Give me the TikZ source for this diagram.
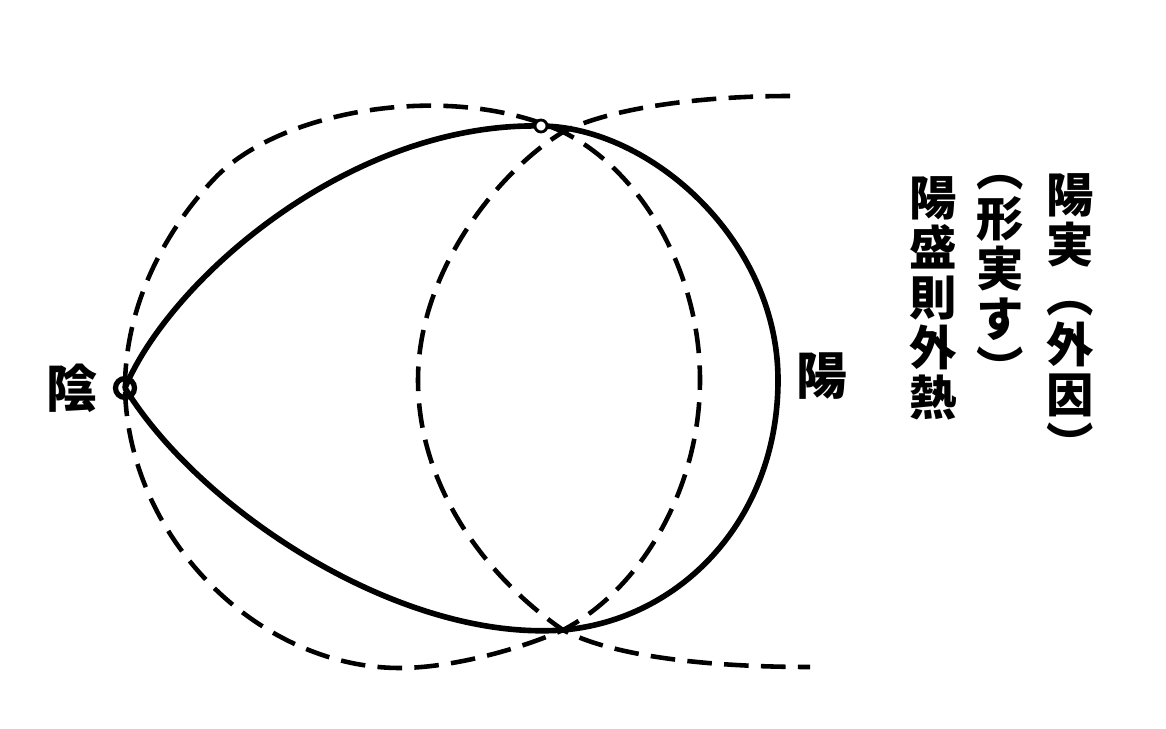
\documentclass[tikz,border=0pt]{standalone}
\usepackage{fontspec}
\newfontfamily\cjk{Noto Sans CJK JP}
\usetikzlibrary{positioning}

\begin{document}
\begin{tikzpicture}[
			x=0.02cm, y=-0.02cm,
			knot/.style={circle,draw=black,line width=3pt,
			inner sep=0pt,minimum size=0.38cm},
			smallknot/.style={circle,draw=black,fill=white,line width=1.6pt,
			inner sep=0pt,minimum size=0.24cm},
			solidline/.style={draw=black,line width=3.2pt,line join=round},
			dashline/.style={draw=black,line width=2.6pt,
			dash pattern=on 14pt off 7pt},
			kanji/.style={font=\cjk\bfseries\fontsize{29pt}{30pt}\selectfont,inner sep=0pt},
			column/.style={font=\cjk\bfseries\fontsize{27pt}{28.45pt}\selectfont,
			inner sep=0pt,align=center,anchor=north}
			]
			\useasboundingbox (0,0) rectangle (1166,729);
			\coordinate (yinpt) at (125,388);
			\coordinate (apex) at (541,126);
			\coordinate (top) at (563,132);
			\coordinate (bottom) at (563,630);
			\coordinate (uptail) at (790,96);
			\coordinate (lowtail) at (810,667);
			\node[kanji, left=0.55cm of yinpt] (yinlabel) {陰};
			\node[kanji] (yanglabel) at (822,376) {陽};
			\node[column] (colright) at (1070,173) {陽\\実\\︵\\外\\因\\︶};
			\node[column] (colmid) at (1000,175) {︵\\形\\実\\す\\︶};
			\node[column] (colleft) at (933,176) {陽\\盛\\則\\外\\熱};
			% solid egg
			\draw[solidline] (yinpt) .. controls (170,280) and (350,122) .. (apex)
				.. controls (650,127) and (778,240) .. (778,380)
				.. controls (778,520) and (680,620) .. (bottom)
				.. controls (400,642) and (200,510) .. cycle;
			% dashed closed curve
			\draw[dashline] (yinpt) .. controls (125,300) and (170,225) .. (215,178)
				.. controls (280,110) and (450,80) .. (top)
				.. controls (640,170) and (700,270) .. (700,380)
				.. controls (700,490) and (640,590) .. (bottom)
				.. controls (518,650) and (450,668) .. (400,668)
				.. controls (260,668) and (128,540) .. cycle;
			% dashed open curve
			\draw[dashline] (uptail) .. controls (700,96) and (610,108) .. (top)
				.. controls (500,170) and (418,270) .. (418,380)
				.. controls (418,490) and (490,580) .. (bottom)
				.. controls (610,655) and (700,667) .. (lowtail);
			\node[knot] (yin) at (yinpt) {};
			\node[smallknot] (apexknot) at (apex) {};
		\end{tikzpicture}
\end{document}
